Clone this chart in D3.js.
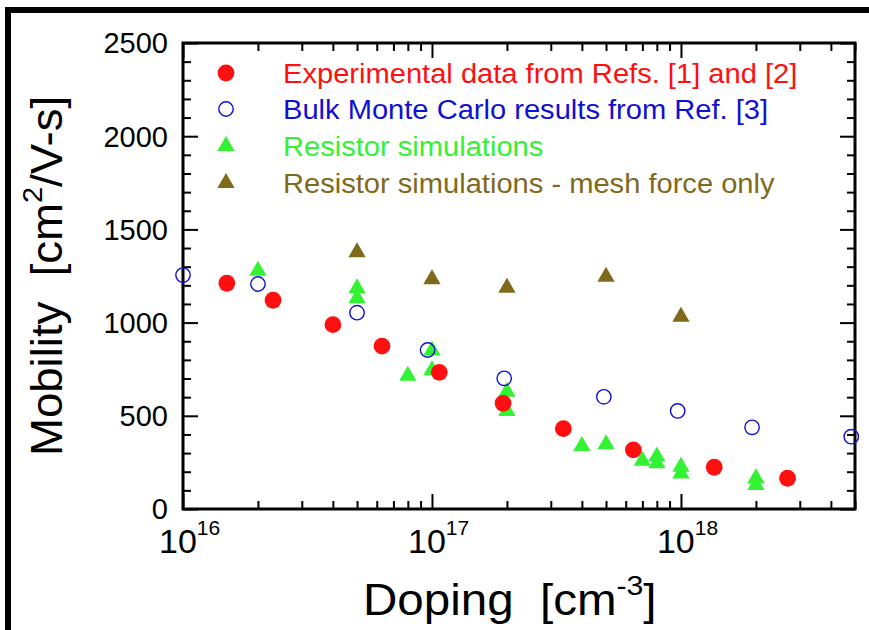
<!DOCTYPE html>
<html>
<head>
<meta charset="utf-8">
<script src="https://cdn.jsdelivr.net/npm/d3@7"></script>
<style>
  html, body { margin: 0; padding: 0; background: #fff; }
  svg { display: block; font-family: "Liberation Sans", Arial, sans-serif; }
</style>
</head>
<body>
<svg id="chart" width="869" height="630"></svg>
<script>
// ---- data ----
const expDoping = [1.5e16, 2.3e16, 4.0e16, 6.3e16, 1.07e17, 1.93e17, 3.37e17, 6.44e17, 1.36e18, 2.68e18];
const expMobility = [1211, 1120, 989, 874, 733, 567, 431, 317, 224, 165];

const mcDoping = [1e16, 2e16, 5e16, 9.6e16, 1.95e17, 4.9e17, 9.7e17, 1.93e18, 4.83e18];
const mcMobility = [1255, 1207, 1053, 853, 701, 602, 526, 438, 388];

const resDoping = [2e16, 5e16, 5e16, 8e16, 1e17, 1e17, 2e17, 2e17, 4e17, 5e17, 7e17, 8e17, 8e17, 1e18, 1e18, 2e18, 2e18];
const resMobility = [1278, 1184, 1130, 715, 850, 745, 629, 526, 338, 347, 259, 281, 245, 227, 191, 165, 129];

const meshDoping = [5e16, 1e17, 2e17, 5e17, 1e18];
const meshMobility = [1377, 1232, 1187, 1246, 1032];

const yTicks = [0, 500, 1000, 1500, 2000, 2500];
const xTicks = [1e16, 1e17, 1e18];
const xTickExp = ["16", "17", "18"];

const legendLabels = [
  "Experimental data from Refs. [1] and [2]",
  "Bulk Monte Carlo results from Ref. [3]",
  "Resistor simulations",
  "Resistor simulations - mesh force only"
];
const colors = ["#ff0f0f", "#1010d0", "#33f233", "#7f6a1c"];

// ---- layout ----
const svg = d3.select("#chart");
const L = 183, R = 855, T = 43, B = 509;

const x = d3.scaleLog().domain([1e16, 5e18]).range([L, R]);
const y = d3.scaleLinear().domain([0, 2500]).range([B, T]);

// outer frame (top and left)
svg.append("path")
  .attr("d", `M8,630 L8,10 L869,10`)
  .attr("fill", "none").attr("stroke", "#000").attr("stroke-width", 6);

// minor/major tick values
const yMinor = d3.range(0, 2501, 100).filter(v => v % 500 !== 0);
const xMinor = [];
for (let e = 16; e <= 18; e++) for (let m = 2; m <= 9; m++) { const v = m * Math.pow(10, e); if (v <= 5e18) xMinor.push(v); }

function styleAxis(g) {
  g.selectAll("path.domain").remove();
  g.selectAll("line").attr("stroke", "#000").attr("stroke-width", 2);
  g.selectAll("text").remove();
}

// left axis
svg.append("g").attr("transform", `translate(${L},0)`)
  .call(d3.axisRight(y).tickValues(yTicks).tickSize(15).tickFormat("")).call(styleAxis);
svg.append("g").attr("transform", `translate(${L},0)`)
  .call(d3.axisRight(y).tickValues(yMinor).tickSize(8).tickFormat("")).call(styleAxis);
// right axis
svg.append("g").attr("transform", `translate(${R},0)`)
  .call(d3.axisLeft(y).tickValues(yTicks).tickSize(15).tickFormat("")).call(styleAxis);
svg.append("g").attr("transform", `translate(${R},0)`)
  .call(d3.axisLeft(y).tickValues(yMinor).tickSize(8).tickFormat("")).call(styleAxis);
// bottom axis
svg.append("g").attr("transform", `translate(0,${B})`)
  .call(d3.axisTop(x).tickValues(xTicks).tickSize(15).tickFormat("")).call(styleAxis);
svg.append("g").attr("transform", `translate(0,${B})`)
  .call(d3.axisTop(x).tickValues(xMinor).tickSize(8).tickFormat("")).call(styleAxis);
// top axis
svg.append("g").attr("transform", `translate(0,${T})`)
  .call(d3.axisBottom(x).tickValues(xTicks).tickSize(15).tickFormat("")).call(styleAxis);
svg.append("g").attr("transform", `translate(0,${T})`)
  .call(d3.axisBottom(x).tickValues(xMinor).tickSize(8).tickFormat("")).call(styleAxis);

// frame of plot
svg.append("rect").attr("x", L).attr("y", T).attr("width", R - L).attr("height", B - T)
  .attr("fill", "none").attr("stroke", "#000").attr("stroke-width", 3);

// y tick labels
svg.append("g").selectAll("text").data(yTicks).join("text")
  .attr("x", 168).attr("y", d => y(d)).attr("dy", "0.36em")
  .attr("text-anchor", "end").attr("font-size", 29).attr("fill", "#000")
  .text(d => d);

// x tick labels
const xl = svg.append("g").selectAll("text").data(xTicks).join("text")
  .attr("x", d => x(d) - 24).attr("y", 553)
  .attr("font-size", 34).attr("fill", "#000");
xl.append("tspan").text("10");
xl.append("tspan").attr("font-size", 21).attr("dy", -18).text((d, i) => xTickExp[i]);

// axis titles
const xt = svg.append("text").attr("transform", "translate(363,615) scale(1.08,1)")
  .attr("font-size", 44).attr("fill", "#000");
xt.append("tspan").text("Doping\u00a0\u00a0[cm");
xt.append("tspan").attr("font-size", 28).attr("dy", -20).text("-3");
xt.append("tspan").attr("dy", 20).text("]");

const yt = svg.append("text").attr("transform", "translate(62,456) rotate(-90) scale(1.035,1)")
  .attr("font-size", 44).attr("fill", "#000");
yt.append("tspan").text("Mobility\u00a0\u00a0[cm");
yt.append("tspan").attr("font-size", 28).attr("dy", -20).text("2");
yt.append("tspan").attr("dy", 20).text("/V-s]");

// markers
const tri = d3.symbol().type(d3.symbolTriangle).size(130);
const plot = svg.append("g");

plot.selectAll("path.res").data(d3.zip(resDoping, resMobility)).join("path").attr("class", "res")
  .attr("transform", d => `translate(${x(d[0])},${y(d[1])})`).attr("d", tri).attr("fill", colors[2]);
plot.selectAll("path.mesh").data(d3.zip(meshDoping, meshMobility)).join("path").attr("class", "mesh")
  .attr("transform", d => `translate(${x(d[0])},${y(d[1])})`).attr("d", tri).attr("fill", colors[3]);
plot.selectAll("circle.mc").data(d3.zip(mcDoping, mcMobility)).join("circle").attr("class", "mc")
  .attr("cx", d => x(d[0])).attr("cy", d => y(d[1])).attr("r", 7.2)
  .attr("fill", "none").attr("stroke", colors[1]).attr("stroke-width", 1.4);
plot.selectAll("circle.exp").data(d3.zip(expDoping, expMobility)).join("circle").attr("class", "exp")
  .attr("cx", d => x(d[0])).attr("cy", d => y(d[1])).attr("r", 8.4)
  .attr("fill", colors[0]);

// legend
const legY = [73, 109, 146, 183];
const lg = svg.append("g");
lg.append("circle").attr("cx", 226).attr("cy", legY[0]).attr("r", 8.4).attr("fill", colors[0]);
lg.append("circle").attr("cx", 226).attr("cy", legY[1]).attr("r", 7.2).attr("fill", "none").attr("stroke", colors[1]).attr("stroke-width", 1.4);
lg.append("path").attr("transform", `translate(226,${legY[2]})`).attr("d", tri).attr("fill", colors[2]);
lg.append("path").attr("transform", `translate(226,${legY[3]})`).attr("d", tri).attr("fill", colors[3]);
lg.selectAll("text").data(legendLabels).join("text")
  .attr("transform", (d, i) => `translate(283,${legY[i]}) scale(1.078,1)`).attr("dy", "0.36em")
  .attr("font-size", 27).attr("fill", (d, i) => colors[i]).text(d => d);
</script>
</body>
</html>
